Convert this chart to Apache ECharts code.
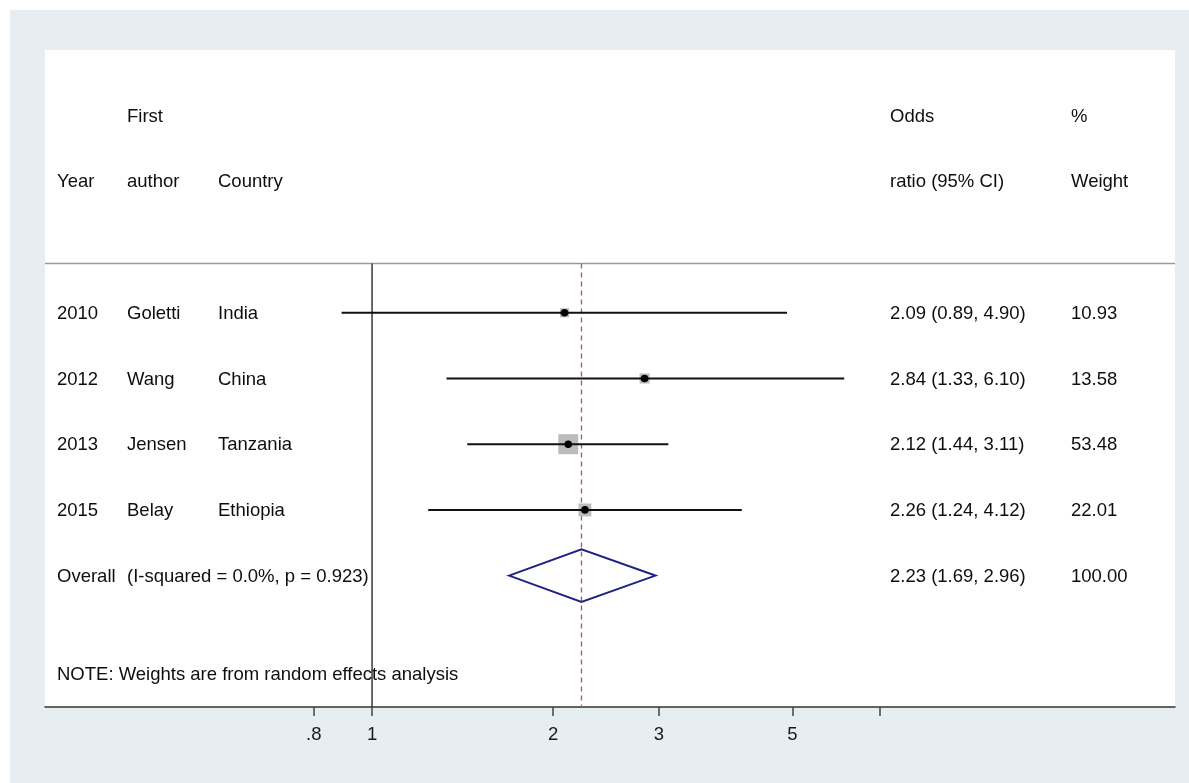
<!DOCTYPE html>
<html>
<head>
<meta charset="utf-8">
<script src="https://cdn.jsdelivr.net/npm/echarts@6/dist/echarts.min.js"></script>
<style>
  html, body { margin: 0; padding: 0; background: #ffffff; }
  #wrap { position: relative; width: 1189px; height: 783px; overflow: hidden; }
  #chart { position: absolute; left: 10px; top: 10px; width: 1179px; height: 773px; }
</style>
</head>
<body>
<div id="wrap"><div id="chart"></div></div>
<script>
// Study-level results of the meta-analysis
const years = ['2010', '2012', '2013', '2015'];
const authors = ['Goletti', 'Wang', 'Jensen', 'Belay'];
const countries = ['India', 'China', 'Tanzania', 'Ethiopia'];
const oddsRatio = [2.09, 2.84, 2.12, 2.26];
const ciLower = [0.89, 1.33, 1.44, 1.24];
const ciUpper = [4.90, 6.10, 3.11, 4.12];
const weights = [10.93, 13.58, 53.48, 22.01];

// Pooled (random effects) estimate: [OR, lower, upper, weight]
const pooled = [2.23, 1.69, 2.96, 100.00];
const heterogeneity = '(I-squared = 0.0%, p = 0.923)';
const note = 'NOTE: Weights are from random effects analysis';

// x-axis ticks (odds ratio, log scale)
const tickValues = [0.8, 1, 2, 3, 5, 7];
const tickLabels = ['.8', '1', '2', '3', '5', ''];

// Column headers: [top line, bottom line]
const headers = [['', 'Year'], ['First', 'author'], ['', 'Country'], ['Odds', 'ratio (95% CI)'], ['%', 'Weight']];

// ---- layout ----
const FONT = '"Liberation Sans", Arial, Helvetica, sans-serif';
const FONT_SIZE = 18.5;
const TEXT_COLOR = '#0e0e0e';
const colX = [47, 117, 208, 880, 1061];       // text column left edges (px)
const firstStudyRow = 4, pooledRow = 8, headerRuleRow = 3.25, noteRow = 9.5, bottomRow = 10;
const boxScale = 20 / Math.sqrt(53.48);        // square side grows with sqrt(weight)

const lg = v => Math.log10(v);
const fmt = v => v.toFixed(2);

const chart = echarts.init(document.getElementById('chart'), null, { renderer: 'canvas' });

const studyData = oddsRatio.map((or, i) => [firstStudyRow + i, lg(ciLower[i]), lg(ciUpper[i]), lg(or), weights[i]]);

const option = {
  backgroundColor: '#e7eef1',
  animation: false,
  grid: { left: 35, right: 14, top: 40, bottom: 76, show: true, backgroundColor: '#ffffff', borderWidth: 0 },
  xAxis: {
    type: 'value',
    min: lg(0.2858),
    max: lg(21.65),
    splitLine: { show: false },
    axisLine: { show: true, onZero: false, lineStyle: { color: '#333333', width: 1.5 } },
    axisTick: { show: true, length: 9, customValues: tickValues.map(lg), lineStyle: { color: '#444444', width: 1.5 } },
    axisLabel: {
      customValues: tickValues.map(lg),
      margin: 18,
      color: '#1a1a1a',
      fontFamily: FONT,
      fontSize: FONT_SIZE,
      formatter: v => {
        const idx = tickValues.findIndex(t => Math.abs(lg(t) - v) < 1e-6);
        return idx >= 0 ? tickLabels[idx] : '';
      }
    }
  },
  yAxis: { type: 'value', min: 0, max: bottomRow, inverse: true, show: false },
  series: [
    {
      // rule under the column headers
      type: 'custom',
      silent: true,
      data: [[headerRuleRow]],
      encode: { y: 0 },
      renderItem: (params, api) => {
        const cs = params.coordSys;
        const y = api.coord([0, api.value(0)])[1];
        return { type: 'line', shape: { x1: cs.x, y1: y, x2: cs.x + cs.width, y2: y },
                 style: { stroke: '#9a9a9a', lineWidth: 1.5 } };
      }
    },
    {
      // null line (OR = 1) and pooled-estimate dashed line
      type: 'custom',
      silent: true,
      data: [[lg(1), headerRuleRow, bottomRow, 0], [lg(pooled[0]), headerRuleRow, bottomRow, 1]],
      encode: { x: 0, y: [1, 2] },
      renderItem: (params, api) => {
        const p1 = api.coord([api.value(0), api.value(1)]);
        const p2 = api.coord([api.value(0), api.value(2)]);
        const dashed = api.value(3) === 1;
        return { type: 'line', shape: { x1: p1[0], y1: p1[1], x2: p2[0], y2: p2[1] },
                 style: dashed ? { stroke: '#b05858', lineWidth: 1.3, lineDash: [5, 4] }
                               : { stroke: '#2a2a2a', lineWidth: 1.4 } };
      }
    },
    {
      // individual studies: weight box, confidence interval, point estimate
      type: 'custom',
      silent: true,
      data: studyData,
      encode: { x: [1, 2, 3], y: 0 },
      renderItem: (params, api) => {
        const y = api.value(0);
        const pLo = api.coord([api.value(1), y]);
        const pHi = api.coord([api.value(2), y]);
        const pE = api.coord([api.value(3), y]);
        const s = boxScale * Math.sqrt(api.value(4));
        return {
          type: 'group',
          children: [
            { type: 'rect', shape: { x: pE[0] - s / 2, y: pE[1] - s / 2, width: s, height: s },
              style: { fill: '#bcbcbc' } },
            { type: 'line', shape: { x1: pLo[0], y1: pLo[1], x2: pHi[0], y2: pHi[1] },
              style: { stroke: '#111111', lineWidth: 2 } },
            { type: 'circle', shape: { cx: pE[0], cy: pE[1], r: 3.8 },
              style: { fill: '#000000' } }
          ]
        };
      }
    },
    {
      // pooled estimate diamond
      type: 'custom',
      silent: true,
      data: [[pooledRow, lg(pooled[1]), lg(pooled[2]), lg(pooled[0])]],
      encode: { x: [1, 2, 3], y: 0 },
      renderItem: (params, api) => {
        const y = api.value(0);
        const h = 0.4;
        const pts = [
          api.coord([api.value(1), y]),
          api.coord([api.value(3), y - h]),
          api.coord([api.value(2), y]),
          api.coord([api.value(3), y + h])
        ];
        return { type: 'polygon', shape: { points: pts },
                 style: { fill: 'none', stroke: '#1f2280', lineWidth: 2 } };
      }
    }
  ]
};

chart.setOption(option);

// ---- table text, aligned to the rows of the y scale ----
const rowY = slot => chart.convertToPixel({ gridIndex: 0 }, [0, slot])[1];

function textEl(str, x, slot) {
  return {
    type: 'text',
    silent: true,
    z: 10,
    style: { text: str, x: x, y: rowY(slot) + 1, fill: TEXT_COLOR, font: FONT_SIZE + 'px ' + FONT,
             align: 'left', verticalAlign: 'middle' }
  };
}

const texts = [];
headers.forEach((h, c) => {
  if (h[0]) texts.push(textEl(h[0], colX[c], 1));
  if (h[1]) texts.push(textEl(h[1], colX[c], 2));
});
years.forEach((yr, i) => {
  const slot = firstStudyRow + i;
  texts.push(textEl(yr, colX[0], slot));
  texts.push(textEl(authors[i], colX[1], slot));
  texts.push(textEl(countries[i], colX[2], slot));
  texts.push(textEl(fmt(oddsRatio[i]) + ' (' + fmt(ciLower[i]) + ', ' + fmt(ciUpper[i]) + ')', colX[3], slot));
  texts.push(textEl(fmt(weights[i]), colX[4], slot));
});
texts.push(textEl('Overall', colX[0], pooledRow));
texts.push(textEl(heterogeneity, colX[1], pooledRow));
texts.push(textEl(fmt(pooled[0]) + ' (' + fmt(pooled[1]) + ', ' + fmt(pooled[2]) + ')', colX[3], pooledRow));
texts.push(textEl(fmt(pooled[3]), colX[4], pooledRow));
texts.push(textEl(note, colX[0], noteRow));

chart.setOption({ graphic: texts });
</script>
</body>
</html>
